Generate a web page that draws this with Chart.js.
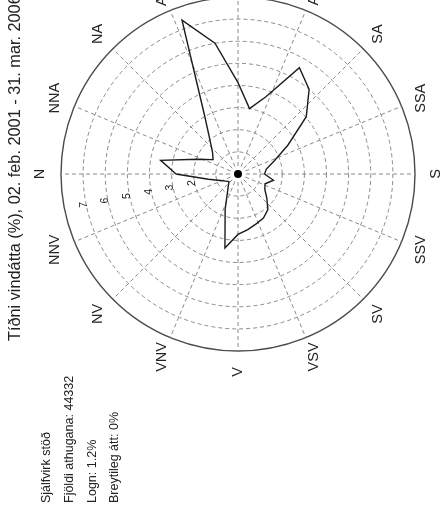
<!DOCTYPE html>
<html>
<head>
<meta charset="utf-8">
<script src="https://cdn.jsdelivr.net/npm/chart.js@4.4.1/dist/chart.umd.min.js"></script>
<style>
  html, body { margin: 0; padding: 0; background: #fff; overflow: hidden; }
  #wrap { position: absolute; left: 0; top: -10px; width: 441px; height: 528px; }
</style>
</head>
<body>
<div id="wrap"><canvas id="rose"></canvas></div>
<script>
// wind direction bins (degrees from north) and frequency in %
const binDegrees = [0, 10, 20, 30, 40, 50, 60, 70, 80, 90, 100, 110,
                    120, 130, 140, 150, 160, 170, 180, 190, 200, 210, 220, 230,
                    240, 250, 260, 270, 280, 290, 300, 310, 320, 330, 340, 350];
const frequency = [2.8, 3.55, 1.95, 1.3, 1.5, 1.96, 3.0, 7.4, 6.0, 4.13, 3.0, 3.73,
                   5.55, 5.0, 4.03, 2.6, 1.75, 1.3, 1.2, 1.63, 1.3, 1.4, 1.7, 2.1,
                   2.3, 2.4, 2.55, 2.73, 3.4, 1.7, 0.95, 0.68, 0.53, 0.64, 0.86, 1.36];

const compassNames = ['N', 'NNA', 'NA', 'ANA', 'A', 'ASA', 'SA', 'SSA',
                      'S', 'SSV', 'SV', 'VSV', 'V', 'VNV', 'NV', 'NNV'];
const ringTicks = [2, 3, 4, 5, 6, 7];
const titleText = 'Tíðni vindátta (%), 02. feb. 2001 - 31. mar. 2006';
const infoLines = ['Sjálfvirk stöð', 'Fjöldi athugana: 44332', 'Logn: 1.2%', 'Breytileg átt: 0%'];

const FONT = '"Liberation Sans", Arial, sans-serif';
const SHIFT = 10; // canvas sits 10px above the window top

function upText(ctx, text, x, y, align) {
    ctx.save();
    ctx.translate(x, y);
    ctx.rotate(-Math.PI / 2);
    ctx.textAlign = align;
    ctx.textBaseline = 'middle';
    ctx.fillText(text, 0, 0);
    ctx.restore();
}

const roseDecor = {
    id: 'roseDecor',
    beforeDatasetsDraw(chart) {
        const ctx = chart.ctx;
        const r = chart.scales.r;
        const cx = r.xCenter, cy = r.yCenter;
        const outer = r.getDistanceFromCenterForValue(8);
        ctx.save();
        ctx.strokeStyle = '#8a8a8a';
        ctx.lineWidth = 1;
        ctx.setLineDash([4, 3]);
        compassNames.forEach((name, k) => {
            const a = k * 22.5 * Math.PI / 180;
            ctx.beginPath();
            ctx.moveTo(cx - Math.cos(a) * 8, cy - Math.sin(a) * 8);
            ctx.lineTo(cx - Math.cos(a) * outer, cy - Math.sin(a) * outer);
            ctx.stroke();
        });
        ctx.restore();
    },
    afterDatasetsDraw(chart) {
        const ctx = chart.ctx;
        const r = chart.scales.r;
        const cx = r.xCenter, cy = r.yCenter;
        const outer = r.getDistanceFromCenterForValue(8);
        ctx.save();
        // centre dot
        ctx.fillStyle = '#000';
        ctx.beginPath();
        ctx.arc(cx, cy, 4, 0, Math.PI * 2);
        ctx.fill();

        ctx.fillStyle = '#222';
        // ring values along a ray just off north
        ctx.font = '10.5px ' + FONT;
        const ta = -11.3 * Math.PI / 180;
        ringTicks.forEach(v => {
            const d = r.getDistanceFromCenterForValue(v) + 2.5;
            upText(ctx, String(v), cx - Math.cos(ta) * d, cy - Math.sin(ta) * d, 'center');
        });

        // compass names
        ctx.font = '14.5px ' + FONT;
        compassNames.forEach((name, k) => {
            const a = k * 22.5 * Math.PI / 180;
            const d = outer + 21;
            upText(ctx, name, cx - Math.cos(a) * d, cy - Math.sin(a) * d, 'center');
        });

        // title
        ctx.font = '16.3px ' + FONT;
        upText(ctx, titleText, 16, 341 + SHIFT, 'left');

        // station info
        ctx.font = '12.5px ' + FONT;
        infoLines.forEach((line, i) => {
            upText(ctx, line, 47 + i * 22.6, 503 + SHIFT, 'left');
        });
        ctx.restore();
    }
};

const ctx = document.getElementById('rose').getContext('2d');

new Chart(ctx, {
    type: 'radar',
    data: {
        labels: binDegrees.map(d => d + '°'),
        datasets: [{
            label: 'Tíðni (%)',
            data: frequency,
            borderColor: '#1c1c1c',
            borderWidth: 1.4,
            fill: false,
            pointRadius: 0,
            tension: 0
        }]
    },
    options: {
        responsive: true,
        maintainAspectRatio: false,
        animation: false,
        layout: { padding: { left: 61, right: 26, top: 7, bottom: 167 } },
        plugins: {
            legend: { display: false },
            tooltip: { enabled: false }
        },
        scales: {
            r: {
                min: 0,
                max: 8,
                startAngle: 270,
                ticks: { display: false, stepSize: 1 },
                pointLabels: { display: false },
                angleLines: { display: false },
                grid: {
                    circular: true,
                    color: c => c.tick.value === 8 ? '#4a4a4a' : '#8a8a8a',
                    lineWidth: c => c.tick.value === 8 ? 1.4 : 1
                },
                border: {
                    dash: c => c.tick.value === 8 ? [] : [4, 3]
                }
            }
        }
    },
    plugins: [roseDecor]
});
</script>
</body>
</html>
